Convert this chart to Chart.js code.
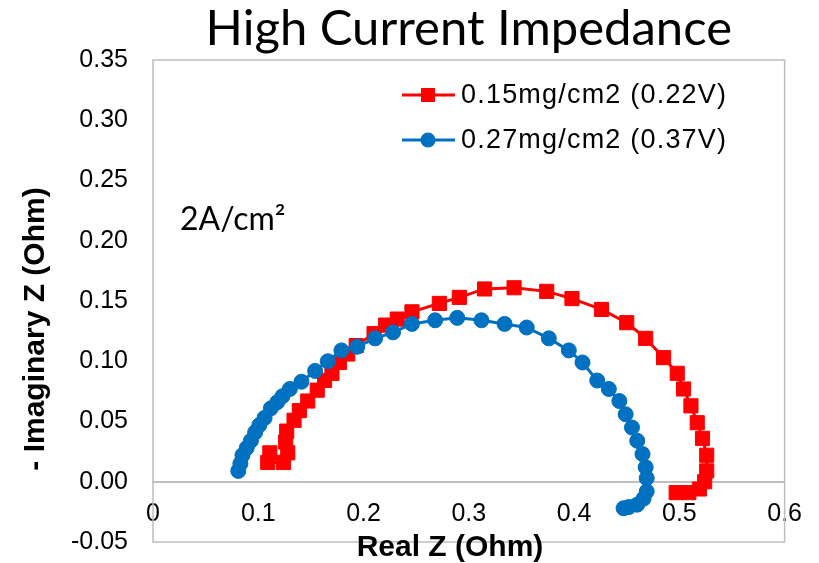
<!DOCTYPE html>
<html><head><meta charset="utf-8">
<script src="https://cdn.jsdelivr.net/npm/chart.js@4/dist/chart.umd.min.js"></script>
<style>html,body{margin:0;padding:0;background:#fff;}</style>
</head><body>
<canvas id="c" width="819" height="563"></canvas>
<script>
const chartTitle = 'High Current Impedance';
const xAxisTitle = 'Real Z (Ohm)';
const yAxisTitle = '- Imaginary Z (Ohm)';
const annotationText = '2A/cm²';
const seriesLabels = ['0.15mg/cm2 (0.22V)', '0.27mg/cm2 (0.37V)'];
const seriesColors = ['#FF0000', '#0070C0'];

const xTickValues = [0, 0.1, 0.2, 0.3, 0.4, 0.5, 0.6];
const xTickLabels = ['0', '0.1', '0.2', '0.3', '0.4', '0.5', '0.6'];
const yTickValues = [-0.05, 0, 0.05, 0.10, 0.15, 0.20, 0.25, 0.30, 0.35];
const yTickLabels = ['-0.05', '0.00', '0.05', '0.10', '0.15', '0.20', '0.25', '0.30', '0.35'];

const redReal = [0.111, 0.109, 0.124, 0.128, 0.126, 0.127, 0.134, 0.139, 0.147, 0.156, 0.163, 0.170, 0.177, 0.185, 0.193, 0.210, 0.221, 0.232, 0.246, 0.272, 0.291, 0.315, 0.343, 0.374, 0.398, 0.426, 0.450, 0.468, 0.485, 0.498, 0.504, 0.511, 0.517, 0.522, 0.526, 0.526, 0.524, 0.519, 0.509, 0.497];
const redImag = [0.024, 0.016, 0.016, 0.024, 0.033, 0.042, 0.051, 0.059, 0.067, 0.076, 0.084, 0.090, 0.099, 0.106, 0.113, 0.123, 0.130, 0.135, 0.141, 0.148, 0.153, 0.160, 0.161, 0.158, 0.152, 0.143, 0.132, 0.119, 0.103, 0.090, 0.077, 0.063, 0.049, 0.036, 0.022, 0.009, 0.000, -0.006, -0.009, -0.009];

const blueReal = [0.081, 0.083, 0.085, 0.089, 0.093, 0.097, 0.101, 0.106, 0.112, 0.118, 0.123, 0.130, 0.141, 0.154, 0.166, 0.179, 0.194, 0.211, 0.228, 0.246, 0.268, 0.289, 0.312, 0.334, 0.355, 0.376, 0.395, 0.408, 0.422, 0.433, 0.443, 0.449, 0.455, 0.460, 0.465, 0.468, 0.469, 0.469, 0.466, 0.460, 0.452, 0.447];
const blueImag = [0.009, 0.015, 0.022, 0.028, 0.034, 0.041, 0.047, 0.053, 0.061, 0.066, 0.071, 0.077, 0.083, 0.092, 0.100, 0.109, 0.112, 0.119, 0.124, 0.131, 0.134, 0.136, 0.134, 0.131, 0.128, 0.119, 0.109, 0.099, 0.084, 0.077, 0.067, 0.056, 0.045, 0.034, 0.023, 0.012, 0.003, -0.008, -0.014, -0.019, -0.021, -0.022];

const toPoints = (xs, ys) => xs.map((x, i) => ({x: x, y: ys[i]}));

const bgPlugin = {
  id: 'bg',
  beforeDraw(chart) {
    const ctx = chart.ctx;
    ctx.save();
    ctx.fillStyle = '#ffffff';
    ctx.fillRect(0, 0, chart.width, chart.height);
    ctx.restore();
  },
  beforeDatasetsDraw(chart) {
    const a = chart.chartArea, ctx = chart.ctx;
    ctx.save();
    ctx.strokeStyle = '#BFBFBF';
    ctx.lineWidth = 1.5;
    ctx.strokeRect(a.left, a.top, a.right - a.left, a.bottom - a.top);
    ctx.restore();
  }
};

const axisTitlePlugin = {
  id: 'axisTitles',
  afterDraw(chart) {
    const ctx = chart.ctx;
    ctx.save();
    ctx.fillStyle = '#000000';
    ctx.font = 'bold 30px "Liberation Sans", Arial, sans-serif';
    ctx.textAlign = 'center';
    ctx.textBaseline = 'middle';
    ctx.fillText(xAxisTitle, 450, 548);
    ctx.translate(36, 329);
    ctx.rotate(-Math.PI / 2);
    ctx.fillText(yAxisTitle, 0, 0);
    ctx.restore();
  }
};

const legendPlugin = {
  id: 'insideLegend',
  afterDraw(chart) {
    const ctx = chart.ctx;
    const rows = [95, 140];
    ctx.save();
    chart.data.datasets.forEach((ds, i) => {
      const y = rows[i];
      ctx.strokeStyle = ds.borderColor;
      ctx.lineWidth = 3;
      ctx.beginPath(); ctx.moveTo(402, y); ctx.lineTo(455, y); ctx.stroke();
      ctx.fillStyle = ds.pointBackgroundColor;
      if (ds.pointStyle === 'rect') {
        ctx.fillRect(428 - 7, y - 7, 14, 14);
      } else {
        ctx.beginPath(); ctx.arc(428, y, 7.5, 0, Math.PI * 2); ctx.fill();
      }
      ctx.fillStyle = '#000000';
      ctx.font = '27px "Liberation Sans", Arial, sans-serif';
      try { ctx.letterSpacing = '1.2px'; } catch (e) {}
      ctx.textAlign = 'left';
      ctx.textBaseline = 'middle';
      ctx.fillText(ds.label, 461, y + 1);
    });
    ctx.restore();
  }
};

const annotationPlugin = {
  id: 'annotation',
  afterDraw(chart) {
    const ctx = chart.ctx;
    ctx.save();
    ctx.fillStyle = '#000000';
    ctx.font = '32px Lato, "Open Sans", sans-serif';
    ctx.textAlign = 'left';
    ctx.textBaseline = 'alphabetic';
    ctx.fillText(annotationText, 180, 230);
    ctx.restore();
  }
};

new Chart(document.getElementById('c'), {
  type: 'scatter',
  data: {
    datasets: [
      {
        label: seriesLabels[0],
        data: toPoints(redReal, redImag),
        showLine: true,
        borderColor: seriesColors[0],
        backgroundColor: seriesColors[0],
        pointBackgroundColor: seriesColors[0],
        pointBorderColor: seriesColors[0],
        borderWidth: 3,
        pointStyle: 'rect',
        pointRadius: 10,
        pointBorderWidth: 1,
        pointHoverRadius: 10,
        tension: 0,
        order: 2
      },
      {
        label: seriesLabels[1],
        data: toPoints(blueReal, blueImag),
        showLine: true,
        borderColor: seriesColors[1],
        backgroundColor: seriesColors[1],
        pointBackgroundColor: seriesColors[1],
        pointBorderColor: seriesColors[1],
        borderWidth: 3,
        pointStyle: 'circle',
        pointRadius: 7.5,
        pointBorderWidth: 1,
        pointHoverRadius: 7.5,
        tension: 0,
        order: 1
      }
    ]
  },
  options: {
    responsive: false,
    animation: false,
    devicePixelRatio: 1,
    layout: { padding: { left: 0, right: 33, top: 0, bottom: 21 } },
    plugins: {
      legend: { display: false },
      tooltip: { enabled: false },
      title: {
        display: true,
        text: chartTitle,
        fullSize: false,
        color: '#000000',
        font: { family: 'Lato, "Open Sans", sans-serif', size: 49, weight: 'normal', lineHeight: 1.2 },
        padding: { top: 0, bottom: 1.2 }
      }
    },
    scales: {
      x: {
        type: 'linear',
        position: { y: 0 },
        min: 0, max: 0.6,
        afterBuildTicks: (s) => { s.ticks = xTickValues.map(v => ({value: v})); },
        ticks: {
          callback: (v, i) => xTickLabels[i],
          color: '#000000',
          font: { family: '"Liberation Sans", Arial, sans-serif', size: 25 },
          padding: 17,
          maxRotation: 0,
          autoSkip: false
        },
        grid: { display: false, drawTicks: false },
        border: { display: true, color: '#BFBFBF', width: 2 },
        title: { display: false }
      },
      y: {
        type: 'linear',
        position: 'left',
        min: -0.05, max: 0.35,
        afterBuildTicks: (s) => { s.ticks = yTickValues.map(v => ({value: v})); },
        afterFit: (s) => { s.width = 153; s.paddingTop = 15; s.paddingBottom = 15; },
        ticks: {
          callback: (v, i) => yTickLabels[i],
          color: '#000000',
          font: { family: '"Liberation Sans", Arial, sans-serif', size: 25 },
          padding: 25,
          autoSkip: false
        },
        grid: { display: false, drawTicks: false },
        border: { display: false },
        title: { display: false }
      }
    }
  },
  plugins: [bgPlugin, axisTitlePlugin, legendPlugin, annotationPlugin]
});
</script>
</body></html>
